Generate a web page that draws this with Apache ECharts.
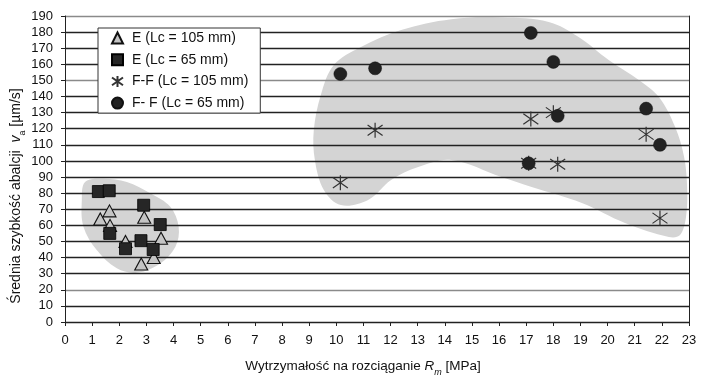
<!DOCTYPE html>
<html><head><meta charset="utf-8">
<script src="https://cdn.jsdelivr.net/npm/echarts@6/dist/echarts.min.js"></script>
<style>html,body{margin:0;padding:0;background:#fff}#c{width:703px;height:384px}</style>
</head><body><div id="c"></div>
<script>
// ---- data ----
const xTicks = {min: 0, max: 23, step: 1};
const yTicks = {min: 0, max: 190, step: 10};
const seriesNames = ['E (Lc = 105 mm)', 'E (Lc = 65 mm)', 'F-F (Lc = 105 mm)', 'F- F (Lc = 65 mm)'];
const E105 = [[1.3,64],[1.64,69],[1.66,60],[2.23,50],[2.92,65],[2.81,36],[3.27,40],[3.54,52]];
const E65  = [[1.23,81],[1.63,81.5],[1.65,55],[2.23,45.5],[2.8,50.5],[2.9,72.5],[3.25,45],[3.51,60.5]];
const FF105 = [[10.15,86.5],[11.43,119],[17.09,98.5],[17.17,126],[18.0,130],[18.16,98],[21.42,116.5],[21.93,64.5]];
const FF65  = [[10.15,154],[11.43,157.5],[17.09,98.5],[17.17,179.5],[18.0,161.5],[18.16,128],[21.42,132.5],[21.93,110]];
// shaded cluster outlines (data units)
const blobLeft = [[0.74,87],[1.42,89],[2.28,87],[3.14,80],[3.88,71.6],[4.19,59],[4.07,46.7],[3.51,36.4],[2.65,30.6],[1.91,33.3],[1.17,44.7],[0.68,59.2],[0.62,75.7]];
const blobRight = [[9.17,119],[9.43,141],[9.91,159.6],[10.91,170.8],[12.39,181.3],[14.24,188],[16.09,189],[17.83,186.3],[18.93,177],[20.04,162.7],[21.15,150.3],[21.89,139.7],[22.49,121.1],[22.82,102.5],[22.93,83.8],[22.89,65.2],[22.67,54],[22.26,52.8],[20.64,61.5],[19.05,73.9],[17.2,83.8],[16.09,90],[14.24,100.6],[13.02,96.2],[12.02,88.2],[11.17,75.8],[10.17,72.6],[9.54,82],[9.21,100.6]];
const blobs = [blobLeft, blobRight];

const chart = echarts.init(document.getElementById('c'), null, {renderer: 'canvas'});
const lblFont = "'Liberation Sans Narrow','Liberation Sans',Arial,sans-serif";
const txtFont = "'Liberation Sans',Arial,sans-serif";
const starPath = 'path://M5,0 L5,10 M0,1.5 L10,8.5 M0,8.5 L10,1.5';

// split line colours (one per tick 0..190)
const splitColors = [];
for (let v = yTicks.min; v <= yTicks.max; v += yTicks.step) {
  splitColors.push((v === 20 || v === 150 || v === 190) ? '#8a8a8a' : '#222');
}

chart.setOption({
  animation: false,
  backgroundColor: '#fff',
  grid: {left: 65, right: 14, top: 16, bottom: 62},
  legend: {
    data: seriesNames,
    orient: 'vertical', left: 98, top: 28,
    backgroundColor: '#fff', borderColor: '#333', borderWidth: 1,
    padding: [2, 12, 2, 13], itemGap: 5.7, itemWidth: 11, itemHeight: 11,
    textStyle: {fontFamily: txtFont, fontSize: 14, color: '#111', lineHeight: 16, padding: [0, 0, 0, 4]},
    z: 10
  },
  xAxis: {
    type: 'value', min: xTicks.min, max: xTicks.max, interval: xTicks.step, z: 2,
    axisLine: {show: true, lineStyle: {color: '#222', width: 1}},
    axisTick: {show: true, length: 4, lineStyle: {color: '#222'}},
    axisLabel: {fontFamily: lblFont, fontSize: 13, color: '#111', margin: 12},
    splitLine: {show: false}
  },
  yAxis: [{
    type: 'value', min: yTicks.min, max: yTicks.max, interval: yTicks.step, z: 2,
    axisLine: {show: true, lineStyle: {color: '#222', width: 1}},
    axisTick: {show: true, length: 4, lineStyle: {color: '#222'}},
    axisLabel: {fontFamily: lblFont, fontSize: 13, color: '#111', margin: 12},
    splitLine: {show: true, lineStyle: {color: splitColors, width: 1.3}}
  }, {
    type: 'value', position: 'right', min: yTicks.min, max: yTicks.max, interval: yTicks.step, z: 2,
    axisLine: {show: true, lineStyle: {color: '#222', width: 1}},
    axisTick: {show: false}, axisLabel: {show: false}, splitLine: {show: false}
  }],
  graphic: [{
    type: 'text', x: 363, y: 366, z: 10,
    style: {
      text: '{n|Wytrzymałość na rozciąganie }{i|R}{s|m}{n| [MPa]}',
      align: 'center', verticalAlign: 'middle',
      rich: {
        n: {fontFamily: txtFont, fontSize: 13.5, fill: '#111', lineHeight: 18, verticalAlign: 'middle'},
        i: {fontFamily: txtFont, fontSize: 13.5, fontStyle: 'italic', fill: '#111', lineHeight: 18, verticalAlign: 'middle'},
        s: {fontFamily: txtFont, fontSize: 9, fontStyle: 'italic', fill: '#111', lineHeight: 18, verticalAlign: 'bottom', padding: [0, 0, -2, 0]}
      }
    }
  }, {
    type: 'text', x: 16, y: 196, rotation: Math.PI / 2, z: 10,
    style: {
      text: '{n|Średnia szybkość abalcji  }{i|v}{s|a}{n| [µm/s]}',
      align: 'center', verticalAlign: 'middle',
      rich: {
        n: {fontFamily: txtFont, fontSize: 14, fill: '#111', lineHeight: 18, verticalAlign: 'middle'},
        i: {fontFamily: txtFont, fontSize: 14, fontStyle: 'italic', fill: '#111', lineHeight: 18, verticalAlign: 'middle'},
        s: {fontFamily: txtFont, fontSize: 9, fill: '#111', lineHeight: 18, verticalAlign: 'bottom', padding: [0, 0, -2, 0]}
      }
    }
  }],
  series: [{
    type: 'custom', name: 'clusters', z: 1, silent: true,
    data: blobs.map((b, i) => [i]),
    renderItem: function (params, api) {
      const pts = blobs[api.value(0)].map(p => api.coord(p));
      return {type: 'polygon', shape: {points: pts, smooth: 0.35}, style: {fill: '#d4d4d4', stroke: null}};
    }
  }, {
    type: 'scatter', name: seriesNames[0], data: E105, z: 3,
    symbol: 'triangle', symbolSize: [13, 12],
    itemStyle: {color: '#c4c4c4', borderColor: '#111', borderWidth: 1.1, opacity: 1}
  }, {
    type: 'scatter', name: seriesNames[1], data: E65, z: 3,
    symbol: 'rect', symbolSize: 12,
    itemStyle: {color: '#262626', borderColor: '#000', borderWidth: 0.8, opacity: 1}
  }, {
    type: 'scatter', name: seriesNames[2], data: FF105, z: 3,
    symbol: starPath, symbolSize: 15,
    itemStyle: {color: 'rgba(0,0,0,0)', borderColor: '#333', borderWidth: 1.2, opacity: 1}
  }, {
    type: 'scatter', name: seriesNames[3], data: FF65, z: 3,
    symbol: 'circle', symbolSize: 13,
    itemStyle: {color: '#222', borderColor: '#111', borderWidth: 0.5, opacity: 1}
  }]
});
</script></body></html>
